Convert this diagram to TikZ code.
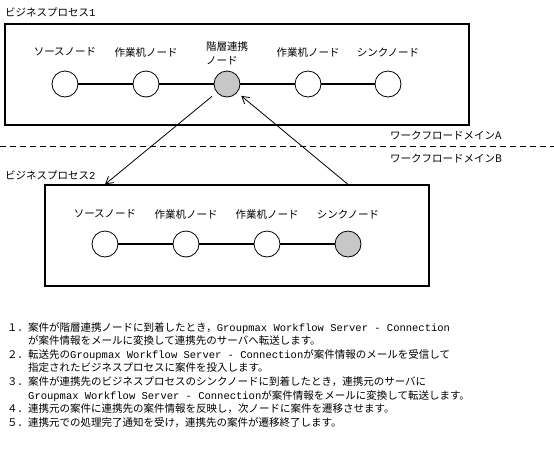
\documentclass[tikz,border=0pt]{standalone}
\usepackage{fontspec}
\setmainfont{Noto Sans CJK JP}
\newfontfamily\gwmono{Liberation Mono}
\usetikzlibrary{arrows.meta}

\newlength{\du}
\setlength{\du}{1pt}

\definecolor{dialinecolor}{rgb}{0.000000, 0.000000, 0.000000}
\definecolor{dialinkcolor}{rgb}{0.780000, 0.780000, 0.780000}

\tikzset{
  flownode/.style={circle, draw=dialinecolor, fill=white, line width=0.8\du, minimum size=26\du, inner sep=0pt},
  linknode/.style={flownode, fill=dialinkcolor},
  flowlabel/.style={inner sep=0pt, font=\fontsize{10.5}{14}\selectfont, align=left},
  procbox/.style={draw=dialinecolor, line width=1.2\du, inner sep=0pt, minimum height=101\du},
  flowline/.style={draw=dialinecolor, line width=1.2\du},
  handover/.style={draw=dialinecolor, line width=0.8pt, -{Straight Barb[length=7pt,width=8pt]}},
}

\begin{document}
\begin{tikzpicture}
  \pgftransformxscale{1.000000}
  \pgftransformyscale{-1.000000}
  \useasboundingbox (0.000000\du,0.000000\du) rectangle (554.000000\du,451.000000\du);
  % business process 1
  \node[anchor=west, flowlabel] (title1) at (5.000000\du,12.000000\du){ビジネスプロセス{\gwmono 1}};
  \node[procbox, minimum width=464\du] (proc1) at (237.000000\du,74.500000\du){};
  \node[flownode] (src1) at (65.000000\du,84.000000\du){};
  \node[flownode] (work1a) at (146.000000\du,84.000000\du){};
  \node[linknode] (link1) at (227.000000\du,84.000000\du){};
  \node[flownode] (work1b) at (308.000000\du,84.000000\du){};
  \node[flownode] (sink1) at (388.000000\du,84.000000\du){};
  \node[flowlabel] (srclab1) at (65.000000\du,52.000000\du){ソースノード};
  \node[flowlabel] (worklab1a) at (146.000000\du,52.000000\du){作業机ノード};
  \node[flowlabel] (linklab1) at (227.000000\du,53.000000\du){階層連携\\ノード};
  \node[flowlabel] (worklab1b) at (308.000000\du,52.000000\du){作業机ノード};
  \node[flowlabel] (sinklab1) at (388.000000\du,52.000000\du){シンクノード};
  \draw[flowline] (src1) -- (work1a) -- (link1) -- (work1b) -- (sink1);
  % domain border
  \node[anchor=west, flowlabel] (domainA) at (390.000000\du,135.000000\du){ワークフロードメインA};
  \node[anchor=west, flowlabel] (domainB) at (390.000000\du,158.000000\du){ワークフロードメインB};
  \draw[line width=1pt, dash pattern=on 6pt off 4pt] (0.000000\du,146.000000\du)--(554.000000\du,146.000000\du);
  % business process 2
  \node[anchor=west, flowlabel] (title2) at (5.000000\du,175.000000\du){ビジネスプロセス{\gwmono 2}};
  \node[procbox, minimum width=384\du] (proc2) at (237.000000\du,235.500000\du){};
  \node[flownode] (src2) at (105.000000\du,244.000000\du){};
  \node[flownode] (work2a) at (186.000000\du,244.000000\du){};
  \node[flownode] (work2b) at (267.000000\du,244.000000\du){};
  \node[linknode] (sink2) at (348.000000\du,244.000000\du){};
  \node[flowlabel] (srclab2) at (105.000000\du,214.000000\du){ソースノード};
  \node[flowlabel] (worklab2a) at (186.000000\du,214.000000\du){作業机ノード};
  \node[flowlabel] (worklab2b) at (267.000000\du,214.000000\du){作業机ノード};
  \node[flowlabel] (sinklab2) at (348.000000\du,214.000000\du){シンクノード};
  \draw[flowline] (src2) -- (work2a) -- (work2b) -- (sink2);
  % hand over between the domains
  \coordinate (in2) at (src2 |- proc2.north);
  \coordinate (out2) at (sink2 |- proc2.north);
  \draw[handover, shorten <=6pt] (link1) -- (in2);
  \draw[handover, shorten >=5pt] (out2) -- (link1);
  % notes
  \node[anchor=north west, flowlabel, font=\fontsize{10.5}{13.6}\selectfont] (notes) at (7.000000\du,322.000000\du){%
    １．案件が階層連携ノードに到着したとき，{\gwmono Groupmax Workflow Server - Connection}\\
    \hspace*{2em}が案件情報をメールに変換して連携先のサーバへ転送します。\\
    ２．転送先の{\gwmono Groupmax Workflow Server - Connection}が案件情報のメールを受信して\\
    \hspace*{2em}指定されたビジネスプロセスに案件を投入します。\\
    ３．案件が連携先のビジネスプロセスのシンクノードに到着したとき，連携元のサーバに\\
    \hspace*{2em}{\gwmono Groupmax Workflow Server - Connection}が案件情報をメールに変換して転送します。\\
    ４．連携元の案件に連携先の案件情報を反映し，次ノードに案件を遷移させます。\\
    ５．連携元での処理完了通知を受け，連携先の案件が遷移終了します。};
\end{tikzpicture}
\end{document}
